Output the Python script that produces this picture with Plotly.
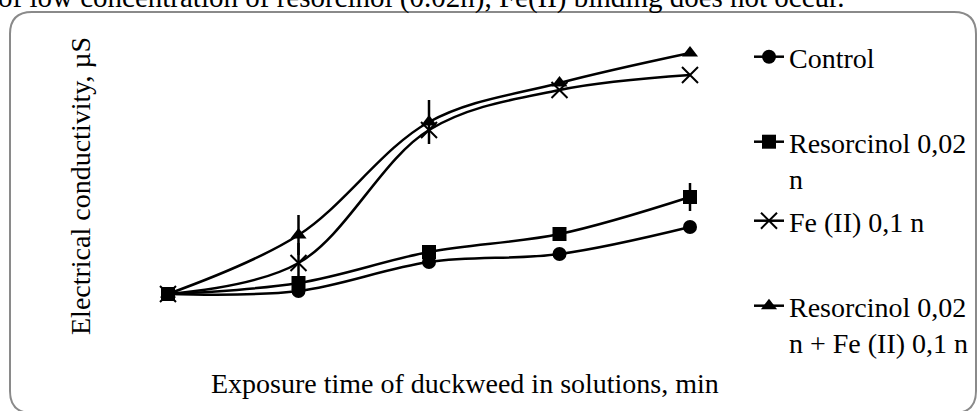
import plotly.graph_objects as go

# ---- data (arbitrary units) ----
time_points = [0, 1, 2, 3, 4]
control = [10.0, 10.3, 13.2, 14.0, 16.7]
resorcinol = [10.0, 11.1, 14.2, 16.0, 19.7]
fe = [10.0, 13.1, 26.4, 30.4, 31.9]
res_fe = [10.0, 15.9, 27.2, 31.1, 34.1]
err_resorcinol = [0, 0, 0, 0, 1.4]
err_fe = [0, 2.0, 0, 0, 0]
err_res_fe = [0, 2.0, 2.2, 0, 0]

names = ["Control", "Resorcinol 0,02<br>n", "Fe (II) 0,1 n", "Resorcinol 0,02<br>n + Fe (II) 0,1 n"]

W, H = 979, 411
L, R, T, B = 100, 249, 30, 91
PW, PH = W - L - R, H - T - B

def px(p):
    return (p - L) / PW

def py(p):
    return (T + PH - p) / PH

FONT = "Liberation Serif"
FS = 28

fig = go.Figure()
line = dict(color="black", width=2.5, shape="spline")
eb = lambda arr: dict(type="data", array=arr, visible=True, color="black", thickness=2.5, width=0)

fig.add_trace(go.Scatter(x=time_points, y=control, name=names[0], mode="lines+markers",
                         line=line, marker=dict(symbol="circle", size=14, color="black"),
                         legend="legend", showlegend=True))
fig.add_trace(go.Scatter(x=time_points, y=resorcinol, name=names[1], mode="lines+markers",
                         line=line, marker=dict(symbol="square", size=14, color="black"),
                         error_y=eb(err_resorcinol), legend="legend2"))
fig.add_trace(go.Scatter(x=time_points, y=fe, name=names[2], mode="lines+markers",
                         line=line, marker=dict(symbol="x-thin", size=16, color="black",
                                                line=dict(color="black", width=2)),
                         error_y=eb(err_fe), legend="legend3"))
fig.add_trace(go.Scatter(x=time_points, y=res_fe, name=names[3], mode="lines+markers",
                         line=line, marker=dict(symbol="triangle-up", size=14, color="black"),
                         error_y=eb(err_res_fe), legend="legend4"))

x_lo = (L - 168) / 130.5
x_hi = (L + PW - 168) / 130.5
y_lo = (394 - (T + PH)) / 10
y_hi = (394 - T) / 10

def leg(ypix):
    return dict(x=px(749), y=py(ypix), xanchor="left", yanchor="top", visible=True,
                font=dict(family=FONT, size=FS, color="black"),
                bgcolor="rgba(0,0,0,0)", valign="top", itemwidth=30)

# rounded border
x0, x1, y0, y1, r = 10, 976, 12, 413, 22
path = (f"M {px(x0 + r)},{py(y0)} L {px(x1 - r)},{py(y0)} Q {px(x1)},{py(y0)} {px(x1)},{py(y0 + r)} "
        f"L {px(x1)},{py(y1 - r)} Q {px(x1)},{py(y1)} {px(x1 - r)},{py(y1)} "
        f"L {px(x0 + r)},{py(y1)} Q {px(x0)},{py(y1)} {px(x0)},{py(y1 - r)} "
        f"L {px(x0)},{py(y0 + r)} Q {px(x0)},{py(y0)} {px(x0 + r)},{py(y0)} Z")

fig.update_layout(
    width=W, height=H,
    margin=dict(l=L, r=R, t=T, b=B, autoexpand=False),
    paper_bgcolor="white", plot_bgcolor="white",
    showlegend=True,
    font=dict(family=FONT, size=FS, color="black"),
    xaxis=dict(range=[x_lo, x_hi], visible=False),
    yaxis=dict(range=[y_lo, y_hi], visible=False),
    legend=leg(58 - 26),
    legend2=leg(143 - 26),
    legend3=leg(222 - 26),
    legend4=leg(307 - 26),
    shapes=[dict(type="path", xref="paper", yref="paper", path=path,
                 line=dict(color="#8a8a8a", width=2), layer="below")],
    annotations=[
        dict(text="Electrical conductivity, µS", textangle=-90, x=px(80), y=py(186),
             xref="paper", yref="paper", showarrow=False, xanchor="center", yanchor="middle",
             font=dict(family=FONT, size=FS, color="black")),
        dict(text="Exposure time of duckweed in solutions, min", x=px(465), y=py(383),
             xref="paper", yref="paper", showarrow=False, xanchor="center", yanchor="middle",
             font=dict(family=FONT, size=FS, color="black")),
        dict(text="of low concentration of resorcinol (0.02n), Fe(II) binding does not occur.",
             x=px(-4), y=py(16), xref="paper", yref="paper", showarrow=False,
             xanchor="left", yanchor="bottom",
             font=dict(family=FONT, size=29, color="black")),
    ],
)

fig.write_html("out.html", config={"displayModeBar": False},
               post_script="document.body.style.margin='0px';")
